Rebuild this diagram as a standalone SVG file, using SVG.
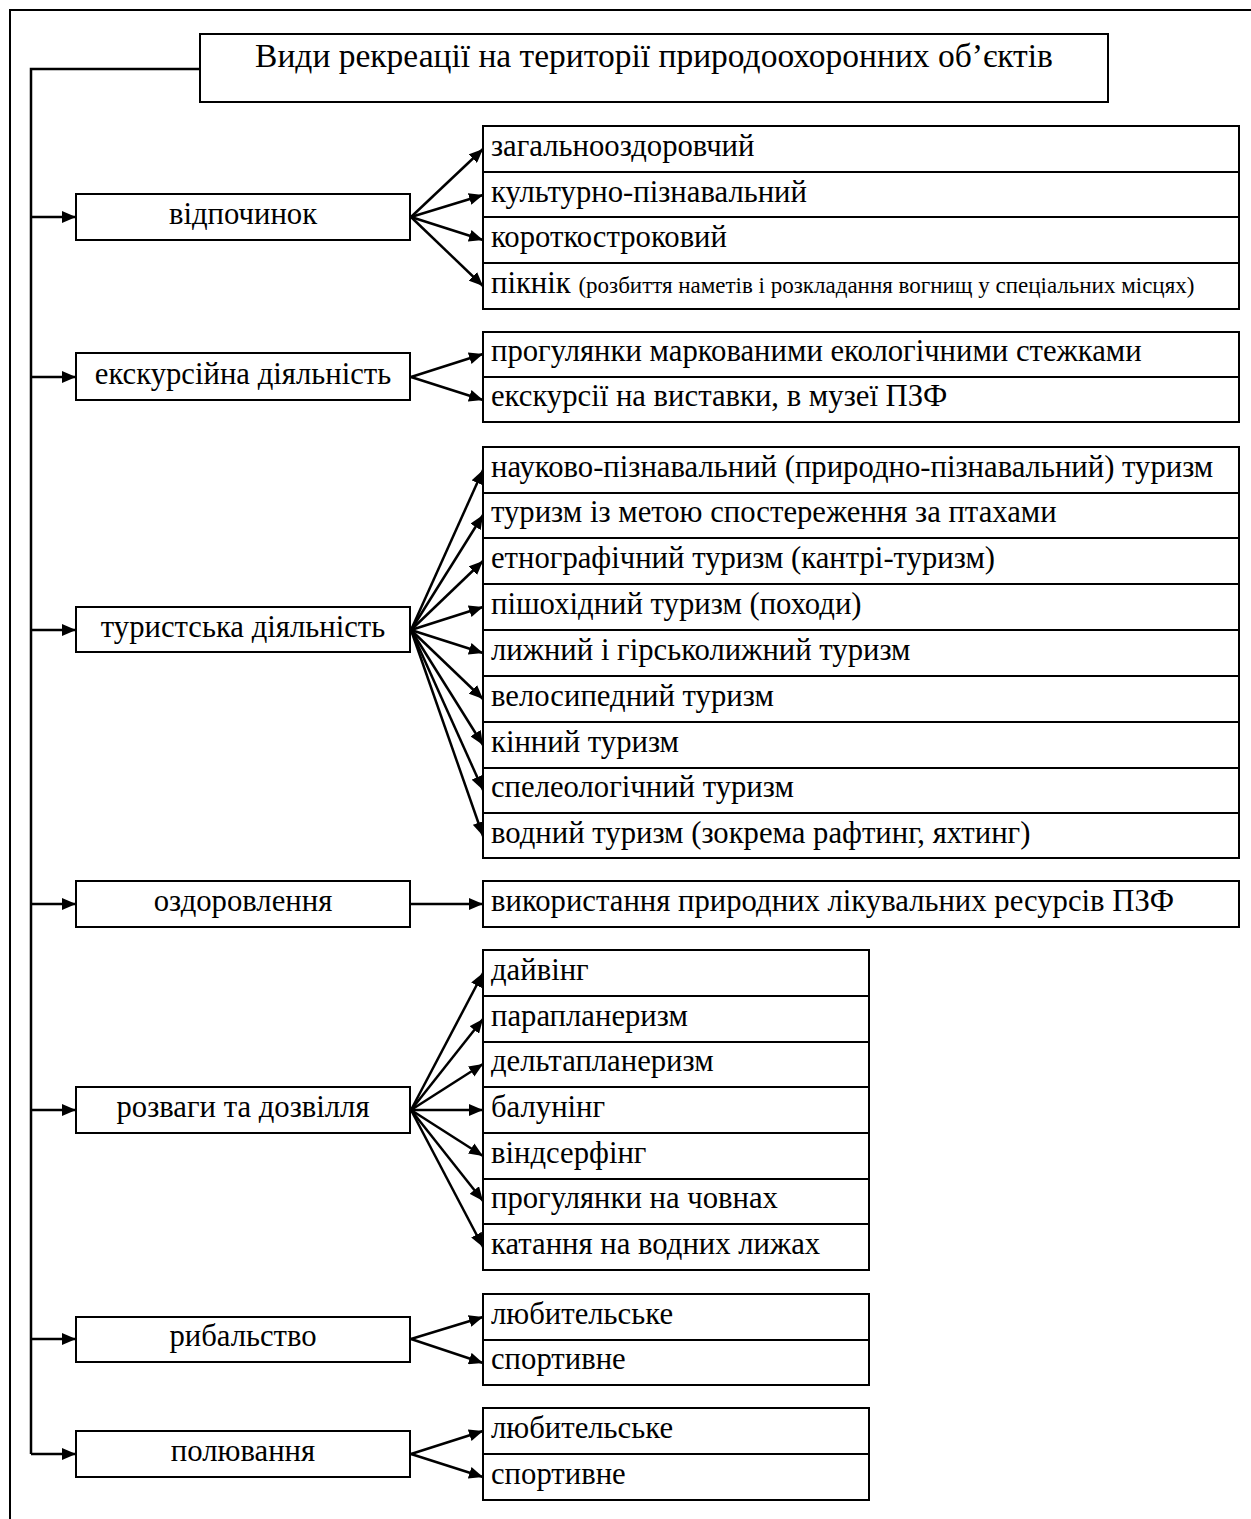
<svg xmlns="http://www.w3.org/2000/svg" width="1251" height="1519" viewBox="0 0 1251 1519">
<defs>
<marker id="ah" markerWidth="14" markerHeight="12" refX="14" refY="6" orient="auto" markerUnits="userSpaceOnUse">
<path d="M0,0 L14,6 L0,12 Z" fill="#000"/>
</marker>
<style>
.box{fill:#fff;stroke:#000;stroke-width:2}
.t{font-family:"Liberation Serif","Times New Roman",serif;font-size:30.7px;fill:#000}
.c{text-anchor:middle}
.ln{stroke:#000;stroke-width:2.5;fill:none}
.ar{stroke:#000;stroke-width:2.5;fill:none;marker-end:url(#ah)}
</style>
</defs>
<rect x="0" y="0" width="1251" height="1519" fill="#fff"/>
<rect x="10" y="10" width="1260" height="1530" fill="none" stroke="#000" stroke-width="2"/>

<g id="title">
<rect class="box" x="200" y="34" width="908" height="68"/>
<text class="t c" x="654" y="67" style="font-size:33.5px">Види рекреації на території природоохоронних об’єктів</text>
</g>

<g id="connectors">
<polyline class="ln" points="200,69 31,69 31,1454"/>
<line class="ar" x1="31" y1="217" x2="76" y2="217"/>
<line class="ar" x1="31" y1="377" x2="76" y2="377"/>
<line class="ar" x1="31" y1="630" x2="76" y2="630"/>
<line class="ar" x1="31" y1="904" x2="76" y2="904"/>
<line class="ar" x1="31" y1="1110" x2="76" y2="1110"/>
<line class="ar" x1="31" y1="1339" x2="76" y2="1339"/>
<line class="ar" x1="31" y1="1454" x2="76" y2="1454"/>
<!-- відпочинок -->
<line class="ar" x1="411" y1="217" x2="483" y2="149"/>
<line class="ar" x1="411" y1="217" x2="483" y2="195"/>
<line class="ar" x1="411" y1="217" x2="483" y2="240"/>
<line class="ar" x1="411" y1="217" x2="483" y2="286"/>
<!-- екскурсійна -->
<line class="ar" x1="411" y1="377" x2="483" y2="354"/>
<line class="ar" x1="411" y1="377" x2="483" y2="400"/>
<!-- туристська -->
<line class="ar" x1="411" y1="630" x2="483" y2="470"/>
<line class="ar" x1="411" y1="630" x2="483" y2="515"/>
<line class="ar" x1="411" y1="630" x2="483" y2="561"/>
<line class="ar" x1="411" y1="630" x2="483" y2="607"/>
<line class="ar" x1="411" y1="630" x2="483" y2="653"/>
<line class="ar" x1="411" y1="630" x2="483" y2="699"/>
<line class="ar" x1="411" y1="630" x2="483" y2="745"/>
<line class="ar" x1="411" y1="630" x2="483" y2="790"/>
<line class="ar" x1="411" y1="630" x2="483" y2="836"/>
<!-- оздоровлення -->
<line class="ar" x1="411" y1="904" x2="483" y2="904"/>
<!-- розваги -->
<line class="ar" x1="411" y1="1110" x2="483" y2="973"/>
<line class="ar" x1="411" y1="1110" x2="483" y2="1019"/>
<line class="ar" x1="411" y1="1110" x2="483" y2="1064"/>
<line class="ar" x1="411" y1="1110" x2="483" y2="1110"/>
<line class="ar" x1="411" y1="1110" x2="483" y2="1156"/>
<line class="ar" x1="411" y1="1110" x2="483" y2="1201"/>
<line class="ar" x1="411" y1="1110" x2="483" y2="1247"/>
<!-- рибальство -->
<line class="ar" x1="411" y1="1339" x2="483" y2="1317"/>
<line class="ar" x1="411" y1="1339" x2="483" y2="1363"/>
<!-- полювання -->
<line class="ar" x1="411" y1="1454" x2="483" y2="1431"/>
<line class="ar" x1="411" y1="1454" x2="483" y2="1477"/>
</g>

<g id="n-vidpochynok">
<rect class="box" x="76" y="194" width="334" height="46"/>
<text class="t c" x="243" y="224">відпочинок</text>
</g>
<g id="n-vidpochynok-items">
<rect class="box" x="483" y="126" width="756" height="46"/>
<rect class="box" x="483" y="172" width="756" height="45"/>
<rect class="box" x="483" y="217" width="756" height="46"/>
<rect class="box" x="483" y="263" width="756" height="46"/>
<text class="t" x="491" y="156">загальнооздоровчий</text>
<text class="t" x="491" y="202">культурно-пізнавальний</text>
<text class="t" x="491" y="247">короткостроковий</text>
<text class="t" x="491" y="293">пікнік <tspan style="font-size:23px">(розбиття наметів і розкладання вогнищ у спеціальних місцях)</tspan></text>
</g>

<g id="n-ekskursiina">
<rect class="box" x="76" y="353" width="334" height="47"/>
<text class="t c" x="243" y="384">екскурсійна діяльність</text>
</g>
<g id="n-ekskursiina-items">
<rect class="box" x="483" y="332" width="756" height="45"/>
<rect class="box" x="483" y="377" width="756" height="45"/>
<text class="t" x="491" y="361">прогулянки маркованими екологічними стежками</text>
<text class="t" x="491" y="406">екскурсії на виставки, в музеї ПЗФ</text>
</g>

<g id="n-turystska">
<rect class="box" x="76" y="607" width="334" height="45"/>
<text class="t c" x="243" y="637">туристська діяльність</text>
</g>
<g id="n-turystska-items">
<rect class="box" x="483" y="447" width="756" height="46"/>
<rect class="box" x="483" y="493" width="756" height="45"/>
<rect class="box" x="483" y="538" width="756" height="46"/>
<rect class="box" x="483" y="584" width="756" height="46"/>
<rect class="box" x="483" y="630" width="756" height="46"/>
<rect class="box" x="483" y="676" width="756" height="46"/>
<rect class="box" x="483" y="722" width="756" height="46"/>
<rect class="box" x="483" y="768" width="756" height="45"/>
<rect class="box" x="483" y="813" width="756" height="45"/>
<text class="t" x="491" y="477">науково-пізнавальний (природно-пізнавальний) туризм</text>
<text class="t" x="491" y="522">туризм із метою спостереження за птахами</text>
<text class="t" x="491" y="568">етнографічний туризм (кантрі-туризм)</text>
<text class="t" x="491" y="614">пішохідний туризм (походи)</text>
<text class="t" x="491" y="660">лижний і гірськолижний туризм</text>
<text class="t" x="491" y="706">велосипедний туризм</text>
<text class="t" x="491" y="752">кінний туризм</text>
<text class="t" x="491" y="797">спелеологічний туризм</text>
<text class="t" x="491" y="843">водний туризм (зокрема рафтинг, яхтинг)</text>
</g>

<g id="n-ozdorovlennia">
<rect class="box" x="76" y="881" width="334" height="46"/>
<text class="t c" x="243" y="911">оздоровлення</text>
</g>
<g id="n-ozdorovlennia-items">
<rect class="box" x="483" y="881" width="756" height="46"/>
<text class="t" x="491" y="911">використання природних лікувальних ресурсів ПЗФ</text>
</g>

<g id="n-rozvahy">
<rect class="box" x="76" y="1087" width="334" height="46"/>
<text class="t c" x="243" y="1117">розваги та дозвілля</text>
</g>
<g id="n-rozvahy-items">
<rect class="box" x="483" y="950" width="386" height="46"/>
<rect class="box" x="483" y="996" width="386" height="46"/>
<rect class="box" x="483" y="1042" width="386" height="45"/>
<rect class="box" x="483" y="1087" width="386" height="46"/>
<rect class="box" x="483" y="1133" width="386" height="46"/>
<rect class="box" x="483" y="1179" width="386" height="45"/>
<rect class="box" x="483" y="1224" width="386" height="46"/>
<text class="t" x="491" y="980">дайвінг</text>
<text class="t" x="491" y="1026">парапланеризм</text>
<text class="t" x="491" y="1071">дельтапланеризм</text>
<text class="t" x="491" y="1117">балунінг</text>
<text class="t" x="491" y="1163">віндсерфінг</text>
<text class="t" x="491" y="1208">прогулянки на човнах</text>
<text class="t" x="491" y="1254">катання на водних лижах</text>
</g>

<g id="n-rybalstvo">
<rect class="box" x="76" y="1317" width="334" height="45"/>
<text class="t c" x="243" y="1346">рибальство</text>
</g>
<g id="n-rybalstvo-items">
<rect class="box" x="483" y="1294" width="386" height="46"/>
<rect class="box" x="483" y="1340" width="386" height="45"/>
<text class="t" x="491" y="1324">любительське</text>
<text class="t" x="491" y="1369">спортивне</text>
</g>

<g id="n-poliuvannia">
<rect class="box" x="76" y="1431" width="334" height="46"/>
<text class="t c" x="243" y="1461">полювання</text>
</g>
<g id="n-poliuvannia-items">
<rect class="box" x="483" y="1408" width="386" height="46"/>
<rect class="box" x="483" y="1454" width="386" height="46"/>
<text class="t" x="491" y="1438">любительське</text>
<text class="t" x="491" y="1484">спортивне</text>
</g>
</svg>
